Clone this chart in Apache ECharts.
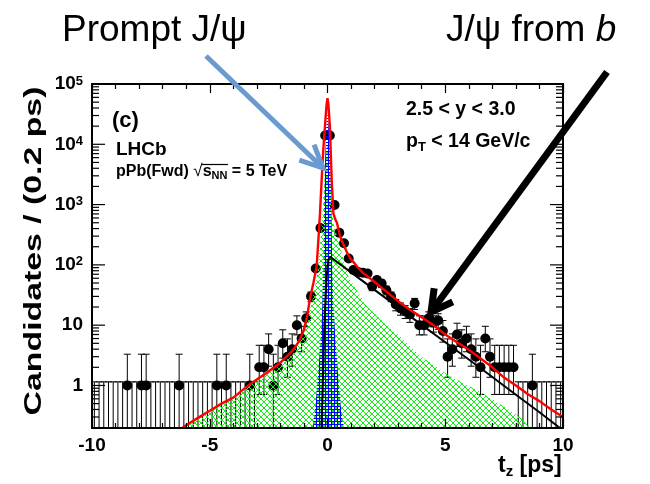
<!DOCTYPE html>
<html>
<head>
<meta charset="utf-8">
<script src="https://cdn.jsdelivr.net/npm/echarts@6/dist/echarts.min.js"></script>
<style>
  html, body { margin: 0; padding: 0; background: #fff; }
  #chart { width: 650px; height: 484px; }
</style>
</head>
<body>
<div id="chart"></div>
<script>
// Decay-time histogram: 100 bins of 0.2 ps from -10 to 10 ps
const binStart = -10;
const binWidth = 0.2;
const counts = [
  0, 0, 0, 0, 0, 0, 0, 1, 0, 0,        // -9.9 .. -8.1
  1, 1, 0, 0, 0, 0, 0, 0, 1, 0,        // -7.9 .. -6.1
  0, 0, 0, 0, 0, 0, 1, 0, 1, 0,        // -5.9 .. -4.1
  0, 0, 0, 1, 0, 2, 2, 4, 1, 2,        // -3.9 .. -2.1
  5, 3, 4, 10, 6, 13, 30, 87, 410, 14000, // -1.9 .. -0.1
  14000, 985, 340, 228, 128, 82, 76, 74, 72, 44, // 0.1 .. 1.9
  56, 49, 38, 30, 22, 19, 17, 15, 23, 10,        // 2.1 .. 3.9
  10, 13, 11, 12, 8, 3, 4, 7, 5, 6,              // 4.1 .. 5.9
  4, 3, 2, 6, 3, 2, 2, 2, 2, 2,                  // 6.1 .. 7.9
  0, 0, 0, 1, 0, 0, 0, 0, 0, 0                   // 8.1 .. 9.9
];

// Fit projections, [t_z (ps), candidates per bin]
const totalFit = [
  [-6.15, 0.2], [-5.5, 0.29], [-5, 0.38], [-4.5, 0.5], [-4, 0.63], [-3.3, 1.05],
  [-2.5, 1.7], [-2, 2.4], [-1.5, 3.7], [-1.2, 5.5], [-1.0, 8.5], [-0.85, 15],
  [-0.75, 27], [-0.6, 50], [-0.46, 95], [-0.39, 250], [-0.32, 700], [-0.25, 2500],
  [-0.18, 8000], [-0.1, 22000], [-0.04, 45000], [0, 58000], [0.04, 45000],
  [0.1, 20000], [0.18, 2500], [0.25, 720], [0.32, 580], [0.4, 500], [0.53, 300],
  [0.6, 256], [0.8, 170], [0.96, 128], [1.17, 104], [1.31, 88], [1.52, 73],
  [2.0, 52], [2.5, 36], [3.0, 25], [3.5, 18], [4.0, 13.5], [4.5, 10], [5.0, 7],
  [5.5, 5.2], [6.0, 3.9], [6.5, 2.8], [7.0, 2.0], [7.5, 1.35], [8.0, 1.0],
  [8.5, 0.72], [9.0, 0.55], [9.5, 0.4], [10, 0.3]
];
const fromBFit = [
  [-0.26, 0.18], [-0.2, 1], [-0.15, 6], [-0.1, 20], [-0.05, 50], [0, 95],
  [0.05, 125], [0.1, 137], [1, 75], [2, 38.5], [3, 19.7], [4, 10.1], [5, 5.2],
  [6, 2.7], [7, 1.38], [8, 0.7], [9, 0.36], [10, 0.18]
];
const bkgFit = [
  [-6.1, 0.197], [-5, 0.37], [-4, 0.6], [-3.3, 1.0], [-2.5, 1.6], [-1.9, 2.3],
  [-1.5, 3.3], [-1.3, 4.8], [-1.0, 8], [-0.8, 14], [-0.67, 23], [-0.46, 60],
  [-0.35, 150], [-0.25, 450], [-0.15, 2000], [-0.08, 6000], [0, 10000],
  [0.08, 6000], [0.15, 2000], [0.25, 490], [0.53, 200], [0.9, 62], [1.3, 35],
  [1.66, 21], [2.5, 10], [3.08, 6.5], [3.5, 4.5], [4.0, 3], [5.1, 1.5],
  [6.33, 0.85], [7.47, 0.45], [8.17, 0.3], [8.6, 0.197]
];
const promptFit = [
  [-0.62, 0.197], [-0.5, 0.5], [-0.4, 1.5], [-0.3, 5], [-0.22, 20], [-0.17, 100],
  [-0.14, 1000], [-0.1, 6000], [-0.05, 20000], [0, 35000], [0.05, 20000],
  [0.12, 6000], [0.16, 1000], [0.2, 100], [0.25, 20], [0.35, 5], [0.45, 1.5],
  [0.55, 0.5], [0.68, 0.197]
];

const xMin = -10, xMax = 10, xStep = 5;
const yMin = 0.197, yMax = 1e5;

// 68% Poisson intervals [down, up] for small counts
const poissonErr = [
  [0, 1.148], [0.827, 2.299], [1.291, 2.637], [1.633, 2.918], [1.914, 3.162],
  [2.159, 3.382], [2.380, 3.583], [2.581, 3.770], [2.768, 3.945], [2.943, 4.110],
  [3.108, 4.266]
];

const points = [];
const errorBars = [];
counts.forEach((n, i) => {
  const t = +(binStart + binWidth * (i + 0.5)).toFixed(2);
  let dn, up;
  if (n < poissonErr.length) { dn = poissonErr[n][0]; up = poissonErr[n][1]; }
  else { dn = Math.sqrt(n); up = Math.sqrt(n); }
  errorBars.push([t, n + up, n - dn]);
  if (n > 0) points.push([t, n]);
});

// logarithmic tick marks: 1..9 x 10^k
const yTickMarks = [];
for (let k = -1; k <= 5; k++) {
  for (let m = 1; m <= 9; m++) {
    const v = m * Math.pow(10, k);
    if (v >= yMin && v <= yMax) yTickMarks.push([0, v, m === 1 ? 1 : 0]);
  }
}

function makeHatch(size, draw) {
  const c = document.createElement('canvas');
  c.width = size; c.height = size;
  draw(c.getContext('2d'), size);
  return c;
}
// green "x" cross-hatch
const greenHatch = makeHatch(6, (g, s) => {
  g.fillStyle = '#11ee11';
  for (let i = 0; i < s; i++) {
    g.fillRect(i, i, 1, 1);
    g.fillRect(s - 1 - i, i, 1, 1);
  }
});
// blue "+" grid hatch
const blueHatch = makeHatch(3, (g, s) => {
  g.fillStyle = '#0000ff';
  g.fillRect(0, 1, s, 1);
  g.fillRect(1, 0, 1, s);
});

const FONT = '"Liberation Sans", Arial, Helvetica, sans-serif';
const measureCtx = document.createElement('canvas').getContext('2d');
function textWidth(font, s) { measureCtx.font = font; return measureCtx.measureText(s).width; }

function yLabel(v) {
  const e = Math.round(Math.log10(v));
  if (Math.abs(Math.log10(v) - e) > 1e-6) return '';
  if (e === 0) return '{b|1}';
  if (e === 1) return '{b|10}';
  return '{b|10}{s|' + e + '}';
}

const chart = echarts.init(document.getElementById('chart'));

const axisBase = {
  type: 'value', min: xMin, max: xMax, interval: xStep, z: 10,
  axisLine: { show: true, onZero: false, lineStyle: { color: '#000', width: 2 } },
  axisTick: { show: true, inside: true, length: 9, lineStyle: { color: '#000', width: 1.2 } },
  minorTick: { show: true, splitNumber: 5, length: 5, lineStyle: { color: '#000', width: 1.2 } },
  splitLine: { show: false }
};

chart.setOption({
  animation: false,
  grid: { left: 92, right: 87, top: 84, bottom: 56 },
  xAxis: [
    Object.assign({}, axisBase, {
      position: 'bottom',
      axisLabel: {
        color: '#000', fontFamily: FONT, fontWeight: 'bold', fontSize: 19, margin: 8,
        formatter: v => String(v)
      }
    }),
    Object.assign({}, axisBase, { position: 'top', axisLabel: { show: false } })
  ],
  yAxis: [
    {
      type: 'log', logBase: 10, min: yMin, max: yMax, z: 10,
      axisLine: { show: true, onZero: false, lineStyle: { color: '#000', width: 2 } },
      axisTick: { show: false }, splitLine: { show: false },
      axisLabel: {
        margin: 9, formatter: yLabel,
        rich: {
          b: { fontFamily: FONT, fontWeight: 'bold', fontSize: 19, color: '#000' },
          s: { fontFamily: FONT, fontWeight: 'bold', fontSize: 13, color: '#000', verticalAlign: 'top' }
        }
      }
    },
    {
      type: 'log', logBase: 10, min: yMin, max: yMax, position: 'right', z: 10,
      axisLine: { show: true, onZero: false, lineStyle: { color: '#000', width: 2 } },
      axisTick: { show: false }, splitLine: { show: false }, axisLabel: { show: false }
    }
  ],
  series: [
    {
      type: 'custom', name: 'errors', z: 2, clip: true,
      data: errorBars, encode: { x: 0, y: 1 },
      renderItem(params, api) {
        const t = api.value(0), hi = api.value(1), lo = api.value(2);
        const top = api.coord([t, hi]);
        const bot = api.coord([t, Math.max(lo, yMin * 0.5)]);
        const cap = 3.5;
        const kids = [
          { type: 'line', shape: { x1: top[0], y1: top[1], x2: bot[0], y2: bot[1] },
            style: { stroke: '#000', lineWidth: 1 } },
          { type: 'line', shape: { x1: top[0] - cap, y1: top[1], x2: top[0] + cap, y2: top[1] },
            style: { stroke: '#000', lineWidth: 1 } }
        ];
        if (lo > yMin) {
          kids.push({ type: 'line', shape: { x1: bot[0] - cap, y1: bot[1], x2: bot[0] + cap, y2: bot[1] },
            style: { stroke: '#000', lineWidth: 1 } });
        }
        return { type: 'group', children: kids };
      }
    },
    {
      type: 'scatter', name: 'data', z: 2, data: points,
      symbol: 'circle', symbolSize: 10, itemStyle: { color: '#000', opacity: 1 }
    },
    {
      type: 'line', name: 'background', z: 3, data: bkgFit, showSymbol: false,
      lineStyle: { width: 0 },
      areaStyle: { origin: 'start', opacity: 1, color: { image: greenHatch, repeat: 'repeat' } }
    },
    {
      type: 'line', name: 'prompt', z: 4, data: promptFit, showSymbol: false,
      lineStyle: { width: 0 },
      areaStyle: { origin: 'start', opacity: 1, color: { image: blueHatch, repeat: 'repeat' } }
    },
    {
      type: 'line', name: 'from b', z: 5, data: fromBFit, showSymbol: false,
      lineStyle: { color: '#000', width: 2 }
    },
    {
      type: 'line', name: 'total', z: 6, data: totalFit, showSymbol: false,
      lineStyle: { color: '#ff0000', width: 2.4 }
    },
    {
      type: 'custom', name: 'yticks', z: 11, clip: false,
      data: yTickMarks, encode: { x: 0, y: 1 },
      renderItem(params, api) {
        const v = api.value(1);
        const len = api.value(2) ? 13 : 7;
        const l = api.coord([xMin, v]), r = api.coord([xMax, v]);
        return { type: 'group', children: [
          { type: 'line', shape: { x1: l[0], y1: l[1], x2: l[0] + len, y2: l[1] }, style: { stroke: '#000', lineWidth: 1.2 } },
          { type: 'line', shape: { x1: r[0] - len, y1: r[1], x2: r[0], y2: r[1] }, style: { stroke: '#000', lineWidth: 1.2 } }
        ] };
      }
    }
  ]
});

function arrow(x1, y1, x2, y2, color, width, head, spread) {
  const ang = Math.atan2(y2 - y1, x2 - x1);
  const a1 = ang + Math.PI - spread, a2 = ang + Math.PI + spread;
  return [
    { type: 'line', z: 20, shape: { x1, y1, x2, y2 }, style: { stroke: color, lineWidth: width, lineCap: 'butt' } },
    { type: 'polyline', z: 20, shape: { points: [
        [x2 + head * Math.cos(a1), y2 + head * Math.sin(a1)], [x2, y2],
        [x2 + head * Math.cos(a2), y2 + head * Math.sin(a2)] ] },
      style: { stroke: color, lineWidth: width, fill: null, lineJoin: 'miter' } }
  ];
}

// a horizontal run of text pieces laid out left to right, centred on capY
function textRun(x, capY, pieces) {
  const out = [];
  let cx = x;
  pieces.forEach(p => {
    out.push({ type: 'text', z: 20, x: cx, y: capY + (p.dy || 0),
      style: { text: p.t, font: p.f, fill: '#000', verticalAlign: 'middle', align: 'left' } });
    p.x0 = cx;
    cx += textWidth(p.f, p.t);
    p.x1 = cx;
  });
  return { els: out, pieces };
}

const bold = s => 'bold ' + s + 'px ' + FONT;

const sqrtLine = textRun(116, 171.5, [
  { t: 'pPb(Fwd) ', f: bold(16) },
  { t: '√', f: '17px ' + FONT, dy: -0.5 },
  { t: 's', f: bold(16) },
  { t: 'NN', f: bold(11), dy: 4 },
  { t: ' = 5 TeV', f: bold(16) }
]);
const rootBar = {
  type: 'line', z: 20,
  shape: { x1: sqrtLine.pieces[1].x1 - 1.5, y1: 164.5, x2: sqrtLine.pieces[3].x1 + 0.5, y2: 164.5 },
  style: { stroke: '#000', lineWidth: 1.2 }
};
const ptLine = textRun(406, 142, [
  { t: 'p', f: bold(19.5) },
  { t: 'T', f: bold(13), dy: 5 },
  { t: ' < 14 GeV/c', f: bold(19.5) }
]);
const tzTitle = textRun(498, 466, [
  { t: 't', f: bold(23) },
  { t: 'z', f: bold(15), dy: 6 },
  { t: ' [ps]', f: bold(23) }
]);

chart.setOption({
  graphic: [
    { type: 'text', z: 20, x: 62, y: 31,
      style: { text: 'Prompt J/ψ', font: '37px ' + FONT, fill: '#000', verticalAlign: 'middle' } },
    { type: 'text', z: 20, x: 446, y: 31,
      style: { text: '{a|J/ψ from }{i|b}', fill: '#000', verticalAlign: 'middle',
        rich: { a: { font: '37px ' + FONT }, i: { font: 'italic 37px ' + FONT } } } },
    { type: 'text', z: 20, x: 35, y: 251, rotation: Math.PI / 2, scaleX: 1.47,
      style: { text: 'Candidates / (0.2 ps)', font: bold(23), fill: '#000',
        align: 'center', verticalAlign: 'middle' } },
    { type: 'text', z: 20, x: 112, y: 121,
      style: { text: '(c)', font: bold(22), fill: '#000', verticalAlign: 'middle' } },
    { type: 'text', z: 20, x: 116, y: 150,
      style: { text: 'LHCb', font: bold(19), fill: '#000', verticalAlign: 'middle' } },
    { type: 'text', z: 20, x: 406, y: 110,
      style: { text: '2.5 < y < 3.0', font: bold(19.5), fill: '#000', verticalAlign: 'middle' } },
    rootBar
  ].concat(
    sqrtLine.els, ptLine.els, tzTitle.els,
    arrow(206, 56, 323, 168, '#6a9bd0', 5, 25, 0.44),
    arrow(607, 72, 431, 312, '#000', 7, 24, 0.5)
  )
});
</script>
</body>
</html>
